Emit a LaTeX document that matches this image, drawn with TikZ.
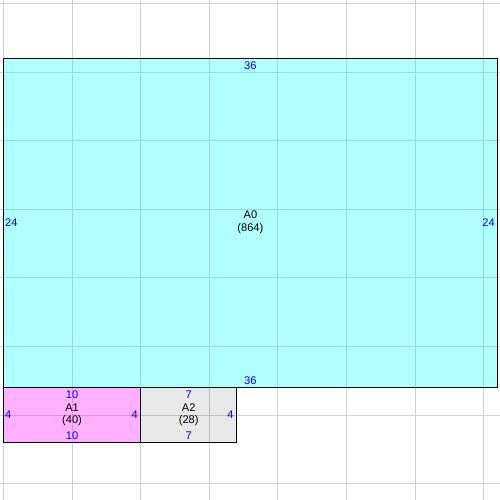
\documentclass[tikz,border=0pt]{standalone}
\usepackage{fontspec}
\setmainfont{Liberation Sans}
\begin{document}
\begin{tikzpicture}[x=0.4cm,y=-0.4cm,
  gridline/.style={draw={rgb,255:red,208;green,208;blue,208},line width=0.8pt},
  boxline/.style={draw=black,line width=0.8pt},
  cyanbox/.style={fill={rgb,255:red,0;green,255;blue,255},fill opacity=0.31},
  pinkbox/.style={fill={rgb,255:red,255;green,0;blue,255},fill opacity=0.31},
  graybox/.style={fill=black,fill opacity=0.09},
  dimlab/.style={text={rgb,255:red,0;green,0;blue,255},inner sep=0pt,font=\fontsize{9.2}{11}\selectfont},
  namelab/.style={text=black,inner sep=0pt,anchor=base,font=\fontsize{9.2}{11}\selectfont}]
\useasboundingbox (-0.255,-0.255) rectangle (36.196,36.196);
\fill[white] (-0.255,-0.255) rectangle (36.196,36.196);
% grid
\foreach \v in {0,5,...,35} {
  \draw[gridline] (\v,-0.255) -- (\v,36.196);
  \draw[gridline] (-0.255,\v) -- (36.196,\v);
}
% boxes
\path[cyanbox] (0,4) rectangle (36,28);
\path[pinkbox] (0,28) rectangle (10,32);
\path[graybox] (10,28) rectangle (17,32);
\draw[boxline] (0,4) rectangle (36,28);
\draw[boxline] (0,28) rectangle (10,32);
\draw[boxline] (10,28) rectangle (17,32);
% A0 labels
\node[dimlab,anchor=base] (a0t) at (18,4.775) {36};
\node[dimlab,anchor=base] (a0b) at (18,27.81) {36};
\node[dimlab,anchor=west] (a0l) at (0.11,16) {24};
\node[dimlab,anchor=east] (a0r) at (35.83,16) {24};
\node[namelab] (a0n) at (18,15.68) {A0};
\node[namelab] (a0v) at (18,16.63) {(864)};
% A1 labels
\node[dimlab,anchor=base] (a1t) at (5,28.78) {10};
\node[dimlab,anchor=base] (a1b) at (5,31.77) {10};
\node[dimlab,anchor=west] (a1l) at (0.11,30) {4};
\node[dimlab,anchor=east] (a1r) at (9.8,30) {4};
\node[namelab] (a1n) at (5,29.76) {A1};
\node[namelab] (a1v) at (5,30.62) {(40)};
% A2 labels
\node[dimlab,anchor=base] (a2t) at (13.5,28.78) {7};
\node[dimlab,anchor=base] (a2b) at (13.5,31.77) {7};
\node[dimlab,anchor=east] (a2r) at (16.78,30) {4};
\node[namelab] (a2n) at (13.5,29.76) {A2};
\node[namelab] (a2v) at (13.5,30.62) {(28)};
\end{tikzpicture}
\end{document}
